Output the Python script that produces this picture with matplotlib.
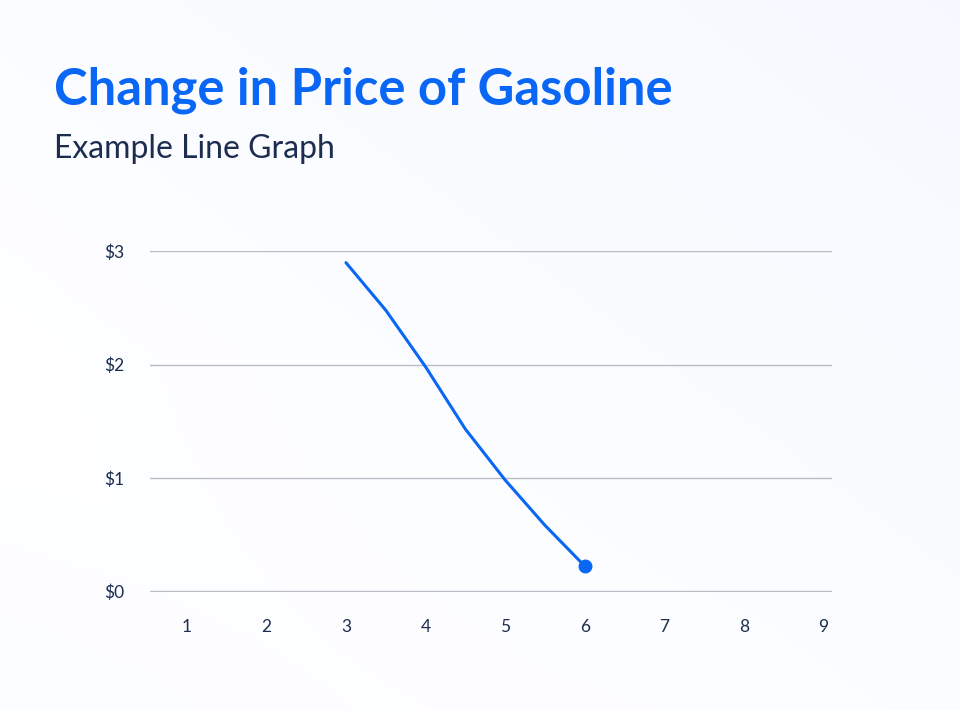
import numpy as np
import matplotlib
matplotlib.use("Agg")
from matplotlib import pyplot as plt

# data
months = [3, 3.5, 4, 4.5, 5, 5.5, 6]
price = [2.9, 2.48, 1.98, 1.43, 0.98, 0.58, 0.22]
x_ticks = [1, 2, 3, 4, 5, 6, 7, 8, 9]
y_ticks = [0, 1, 2, 3]
y_labels = ['$0', '$1', '$2', '$3']

blue = '#0a66f5'
navy = '#1d2d50'
plt.rcParams['font.family'] = ['Lato', 'DejaVu Sans']

fig = plt.figure(figsize=(9.6, 7.1), dpi=100)

# soft background gradient
bg = fig.add_axes([0, 0, 1, 1], zorder=-1)
yy, xx = np.mgrid[0:1:200j, 0:1:200j]
g = np.clip(0.5 * xx + 0.5 * (1 - yy) - 0.2, 0, 1) * 0.5 + np.clip(0.8 - xx, 0, 1) * np.clip(yy - 0.5, 0, 1) * 0.3
base = np.array([1.0, 1.0, 1.0])
tint = np.array([0.91, 0.94, 1.0])
img = base + (tint - base) * np.clip(g, 0, 1)[..., None]
bg.imshow(img, extent=[0, 1, 0, 1], aspect='auto', origin='upper')
bg.axis('off')

fig.text(0.056, 0.853, 'Change in Price of Gasoline', color=blue, fontsize=36.5, fontweight='bold')
fig.text(0.056, 0.778, 'Example Line Graph', color=navy, fontsize=23)

ax = fig.add_axes([0.156, 0.166, 0.711, 0.48])
ax.patch.set_alpha(0)
ax.plot(months, price, color=blue, lw=2.2, solid_capstyle='round', solid_joinstyle='round')
ax.plot(months[-1], price[-1], 'o', color=blue, ms=9)
ax.set_xlim(0.535, 9.11)
ax.set_ylim(-0.01, 3)
ax.set_yticks(y_ticks)
ax.set_yticklabels(y_labels)
ax.set_xticks(x_ticks)
ax.grid(axis='y', color='#b9bcc4', lw=1)
ax.set_axisbelow(True)
for s in ax.spines.values():
    s.set_visible(False)
ax.tick_params(length=0, labelsize=12.5, colors=navy)
ax.tick_params(axis='x', pad=19)
ax.tick_params(axis='y', pad=18)

fig.savefig('out.png', dpi=100)
